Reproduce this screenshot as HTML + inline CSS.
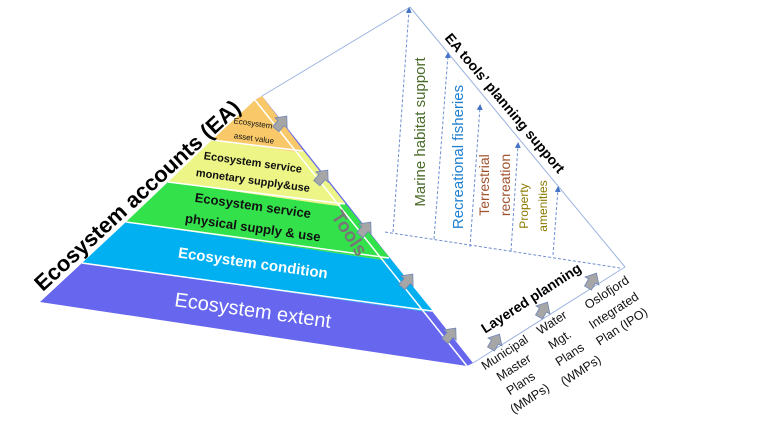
<!DOCTYPE html>
<html><head><meta charset="utf-8"><style>
html,body{margin:0;padding:0;background:#fff;}
svg{display:block;font-family:"Liberation Sans",sans-serif;}
</style></head><body>
<svg width="768" height="432" viewBox="0 0 768 432" xmlns="http://www.w3.org/2000/svg">
<defs>
<marker id="ah" markerWidth="6" markerHeight="6" refX="3" refY="3" orient="auto"><path d="M0,0 L6,3 L0,6 z" fill="#4472c4"/></marker>
<g id="ar"><path d="M-4,8 L-4,0 L-8,0 L0,-9 L8,0 L4,0 L4,8 z" fill="#a6a6a6" stroke="#6f86b8" stroke-width="0.8"/></g>
</defs>
<!-- right triangle outline -->
<g stroke="#9db4e0" stroke-width="1" fill="none">
<line x1="262" y1="96" x2="410" y2="7"/>
<line x1="410" y1="7" x2="625" y2="267"/>
<line x1="473" y1="363" x2="625" y2="267"/>
</g>
<g stroke="#6f8fd0" stroke-width="1" fill="none" stroke-dasharray="3,2">
<line x1="385" y1="232" x2="620" y2="268"/>
<line x1="393" y1="232" x2="409" y2="10" marker-end="url(#ah)"/>
<line x1="434" y1="239" x2="448" y2="55" marker-end="url(#ah)"/>
<line x1="470" y1="247" x2="480" y2="107" marker-end="url(#ah)"/>
<line x1="511" y1="251" x2="518" y2="145" marker-end="url(#ah)"/>
<line x1="553" y1="255" x2="558" y2="189" marker-end="url(#ah)"/>
</g>
<!-- side strip -->
<polygon points="255,100 262,96 473,363 467,366" fill="#6666ee"/>
<polygon points="255,100 262,96 303,150 297,152" fill="#f9c969"/>
<polygon points="297,152 303,150 345,203 338,206" fill="#ecf585"/>
<polygon points="338,206 345,203 389,257 383,260" fill="#33e24a"/>
<polygon points="383,260 389,257 432,310 428,312" fill="#00b0f0"/>
<!-- front bands -->
<polygon points="40,302 82,263 428,312 467,366" fill="#6666ee"/>
<polygon points="82,263 126,222 383,260 428,312" fill="#00b0f0"/>
<polygon points="126,222 168,182 338,206 383,260" fill="#33e24a"/>
<polygon points="168,182 212,140 297,152 338,206" fill="#ecf585"/>
<polygon points="212,140 255,100 297,152" fill="#f9c969"/>
<g stroke="#fff" stroke-width="1.5" fill="none">
<line x1="255" y1="100" x2="467" y2="366"/>
<line x1="82" y1="263" x2="432" y2="311"/>
<line x1="126" y1="222" x2="389" y2="258"/>
<line x1="168" y1="182" x2="345" y2="204"/>
<line x1="212" y1="140" x2="303" y2="151"/>
</g>
<!-- band labels -->
<g text-anchor="middle">
<text x="253" y="317" font-size="20" fill="#fff" transform="rotate(8 253 310)">Ecosystem extent</text>
<text x="253" y="268" font-size="15" font-weight="bold" fill="#fff" transform="rotate(8 253 263)">Ecosystem condition</text>
<text x="253" y="210" font-size="13" font-weight="bold" fill="#111" transform="rotate(8 253 205)">Ecosystem service</text>
<text x="253" y="232" font-size="13" font-weight="bold" fill="#111" transform="rotate(8 253 227)">physical supply &amp; use</text>
<text x="253" y="166" font-size="11" font-weight="bold" fill="#111" transform="rotate(8 253 162)">Ecosystem service</text>
<text x="253" y="184" font-size="11" font-weight="bold" fill="#111" transform="rotate(8 253 180)">monetary supply&amp;use</text>
<text x="253" y="126" font-size="8" fill="#111" transform="rotate(8 253 123)">Ecosystem</text>
<text x="254" y="141" font-size="8" fill="#111" transform="rotate(8 254 138)">asset value</text>
</g>
<text x="137" y="203" font-size="22" font-weight="bold" text-anchor="middle" fill="#000" transform="rotate(-42.5 137 195)">Ecosystem accounts (EA)</text>
<text x="350" y="240" font-size="19" font-weight="bold" text-anchor="middle" fill="#777" transform="rotate(57 350 233)">Tools</text>
<!-- gray arrows -->
<use href="#ar" transform="translate(281,123) rotate(40)"/>
<use href="#ar" transform="translate(322,177) rotate(40)"/>
<use href="#ar" transform="translate(365,229) rotate(40)"/>
<use href="#ar" transform="translate(407,281) rotate(40)"/>
<use href="#ar" transform="translate(450,335) rotate(40)"/>
<use href="#ar" transform="translate(495,342) rotate(30)"/>
<use href="#ar" transform="translate(543,310) rotate(30)"/>
<use href="#ar" transform="translate(592,281) rotate(30)"/>
<!-- vertical labels -->
<g text-anchor="middle">
<text x="420" y="137" font-size="15" fill="#4a6b2a" transform="rotate(-90 420 132)">Marine habitat support</text>
<text x="458" y="162" font-size="15" fill="#1f7fcf" transform="rotate(-90 458 157)">Recreational fisheries</text>
<text x="484" y="190" font-size="14" fill="#a0522d" transform="rotate(-90 484 185)">Terrestrial</text>
<text x="505" y="190" font-size="14" fill="#a0522d" transform="rotate(-90 505 185)">recreation</text>
<text x="524" y="210" font-size="12" fill="#8a7a00" transform="rotate(-90 524 206)">Property</text>
<text x="543" y="210" font-size="12" fill="#8a7a00" transform="rotate(-90 543 206)">amenities</text>
</g>
<text x="505" y="108" font-size="14" font-weight="bold" text-anchor="middle" fill="#000" transform="rotate(50 505 103)">EA tools’ planning support</text>
<text x="531" y="303" font-size="14" font-weight="bold" text-anchor="middle" fill="#000" transform="rotate(-33 531 298)">Layered planning</text>
<g font-size="12.5" fill="#111" text-anchor="middle">
<text x="0" y="0" transform="translate(507,356) rotate(-33)">Municipal</text>
<text x="0" y="0" transform="translate(516,371) rotate(-33)">Master</text>
<text x="0" y="0" transform="translate(523,387) rotate(-33)">Plans</text>
<text x="0" y="0" transform="translate(532,402) rotate(-33)">(MMPs)</text>
<text x="0" y="0" transform="translate(554,326) rotate(-33)">Water</text>
<text x="0" y="0" transform="translate(562,343) rotate(-33)">Mgt.</text>
<text x="0" y="0" transform="translate(572,358) rotate(-33)">Plans</text>
<text x="0" y="0" transform="translate(583,374) rotate(-33)">(WMPs)</text>
<text x="0" y="0" transform="translate(609,296) rotate(-33)">Oslofjord</text>
<text x="0" y="0" transform="translate(616,314) rotate(-33)">Integrated</text>
<text x="0" y="0" transform="translate(624,330) rotate(-33)">Plan (IPO)</text>
</g>
</svg>
</body></html>
